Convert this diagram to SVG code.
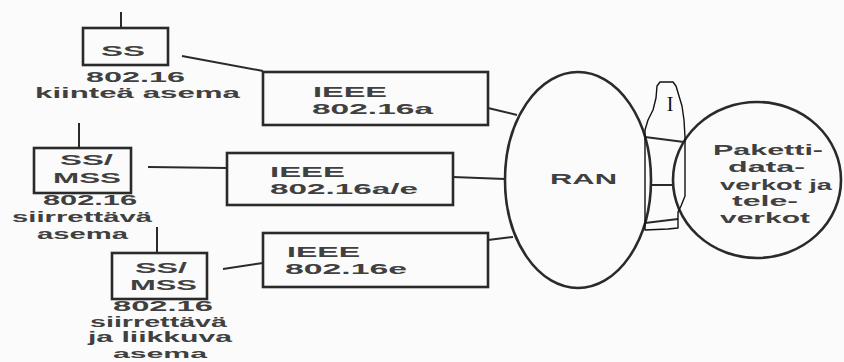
<svg xmlns="http://www.w3.org/2000/svg" width="844" height="362" viewBox="0 0 844 362">
<style>
.box{fill:none;stroke:#2a2a2a;stroke-width:2.6}
.ln{fill:none;stroke:#2a2a2a;stroke-width:2}
.t{font-family:"Liberation Sans",Arial,sans-serif;font-weight:bold;fill:#404040;font-size:14px}
.l{font-family:"Liberation Sans",Arial,sans-serif;font-weight:bold;fill:#404040;font-size:15px}
.s{font-size:14px}
.xs{font-size:13px}
.hand{fill:none;stroke:#111;stroke-width:1.4;stroke-linejoin:round}
</style>
<rect width="844" height="362" fill="#fbfbfb"/>
<g id="connectors">
<line class="ln" x1="121" y1="12" x2="121" y2="28"/>
<line class="ln" x1="79" y1="123" x2="79" y2="148"/>
<line class="ln" x1="157" y1="227" x2="157" y2="253"/>
<line class="ln" x1="182" y1="56" x2="263" y2="71"/>
<line class="ln" x1="488" y1="108" x2="517" y2="115"/>
<line class="ln" x1="148" y1="167" x2="227" y2="168"/>
<line class="ln" x1="453" y1="177" x2="505" y2="179"/>
<line class="ln" x1="223" y1="269" x2="263" y2="263"/>
<line class="ln" x1="488" y1="240" x2="513" y2="237"/>
<line class="ln" x1="645" y1="137" x2="684" y2="142"/>
<line class="ln" x1="650" y1="185" x2="674" y2="185"/>
<line class="ln" x1="645" y1="223" x2="678" y2="219"/>
</g>
<g id="ss1">
<rect class="box" x="83" y="28" width="85" height="37"/>
<text class="t" x="101" y="56" textLength="44" lengthAdjust="spacingAndGlyphs">SS</text>
<text class="l" x="86" y="82" textLength="99" lengthAdjust="spacingAndGlyphs">802.16</text>
<text class="l" x="35" y="98" textLength="205" lengthAdjust="spacingAndGlyphs">kiinteä asema</text>
</g>
<g id="ss2">
<rect class="box" x="34" y="148" width="97" height="45"/>
<text class="t" x="60" y="165" textLength="53" lengthAdjust="spacingAndGlyphs">SS/</text>
<text class="t" x="53" y="183" textLength="68" lengthAdjust="spacingAndGlyphs">MSS</text>
<text class="l" x="43" y="205" textLength="94" lengthAdjust="spacingAndGlyphs">802.16</text>
<text class="l" x="12" y="222" textLength="140" lengthAdjust="spacingAndGlyphs">siirrettävä</text>
<text class="l" x="37" y="239" textLength="91" lengthAdjust="spacingAndGlyphs">asema</text>
</g>
<g id="ss3">
<rect class="box" x="112" y="253" width="95" height="46"/>
<text class="t" x="135" y="273" textLength="52" lengthAdjust="spacingAndGlyphs">SS/</text>
<text class="t" x="130" y="290" textLength="67" lengthAdjust="spacingAndGlyphs">MSS</text>
<text class="l" x="113" y="311" textLength="100" lengthAdjust="spacingAndGlyphs">802.16</text>
<text class="l s" x="90" y="327" textLength="137" lengthAdjust="spacingAndGlyphs">siirrettävä</text>
<text class="l s" x="88" y="342" textLength="144" lengthAdjust="spacingAndGlyphs">ja liikkuva</text>
<text class="l xs" x="113" y="358" textLength="94" lengthAdjust="spacingAndGlyphs">asema</text>
</g>
<g id="ieee1">
<rect class="box" x="263" y="72" width="225" height="53"/>
<text class="t" x="313" y="97" textLength="74" lengthAdjust="spacingAndGlyphs">IEEE</text>
<text class="t" x="312" y="114" textLength="121" lengthAdjust="spacingAndGlyphs">802.16a</text>
</g>
<g id="ieee2">
<rect class="box" x="227" y="153" width="226" height="52"/>
<text class="t" x="270" y="177" textLength="75" lengthAdjust="spacingAndGlyphs">IEEE</text>
<text class="t" x="270" y="194" textLength="148" lengthAdjust="spacingAndGlyphs">802.16a/e</text>
</g>
<g id="ieee3">
<rect class="box" x="263" y="233" width="225" height="54"/>
<text class="t" x="287" y="257" textLength="73" lengthAdjust="spacingAndGlyphs">IEEE</text>
<text class="t" x="285" y="274" textLength="122" lengthAdjust="spacingAndGlyphs">802.16e</text>
</g>
<g id="ran">
<ellipse class="box" cx="578" cy="180" rx="73" ry="108"/>
<text class="t" x="550" y="184" textLength="67" lengthAdjust="spacingAndGlyphs">RAN</text>
</g>
<g id="paketti">
<ellipse class="box" cx="757" cy="180" rx="84" ry="78"/>
<text class="t" x="713" y="155" textLength="110" lengthAdjust="spacingAndGlyphs">Paketti-</text>
<text class="t" x="728" y="172" textLength="77" lengthAdjust="spacingAndGlyphs">data-</text>
<text class="t" x="720" y="190" textLength="112" lengthAdjust="spacingAndGlyphs">verkot ja</text>
<text class="t" x="732" y="206" textLength="66" lengthAdjust="spacingAndGlyphs">tele-</text>
<text class="t" x="720" y="223" textLength="90" lengthAdjust="spacingAndGlyphs">verkot</text>
</g>
<g id="hand">
<path class="hand" d="M660,82 L673,82 L676,86 L679,96 L682,106 L684,120 L685,137 L685,196 L681,206 L678,212 L678,228 L668,229 L645,230 L645,130 L648,120 L653,110 L656,98 L657,86 Z"/>
<text x="670" y="111" text-anchor="middle" font-family="Liberation Serif,serif" font-size="20" fill="#111">I</text>
</g>
</svg>
